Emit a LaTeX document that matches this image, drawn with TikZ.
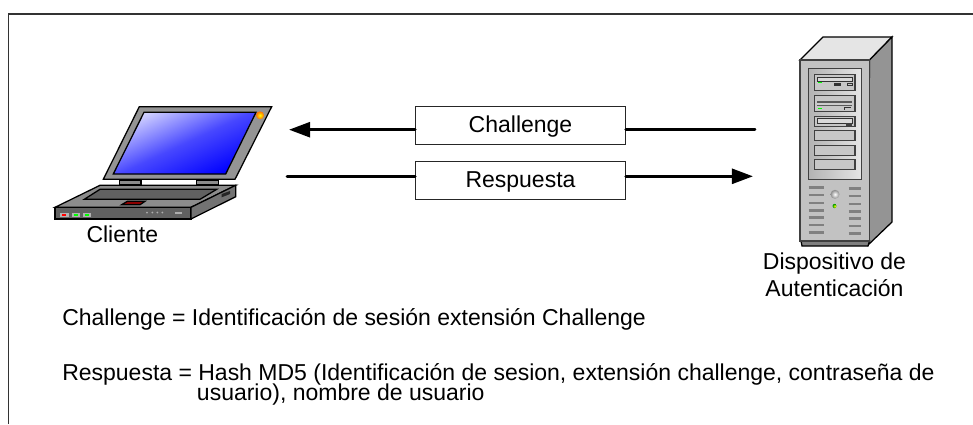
\documentclass[tikz,border=0pt]{standalone}
\usepackage{fontspec}
\setmainfont{Liberation Sans}
\usetikzlibrary{arrows.meta}
\tikzset{
  label/.style={font=\fontsize{16.35}{19}\selectfont, inner sep=0pt},
  note/.style={label, anchor=base west},
  msgbox/.style={label, draw=black!85, line width=0.7pt, fill=white, text height=11pt, text depth=1pt, minimum width=5.24cm, minimum height=0.95cm},
  msgline/.style={line width=2.1pt, line cap=round},
  msgtip/.style={-{Triangle[length=15pt,width=10.6pt]}},
  edge/.style={draw=black, line width=0.9pt},
  bay/.style={draw=black!75, line width=0.8pt, fill=black!22},
  vent/.style={line width=1.8pt, black!50}
}
\begin{document}
\begin{tikzpicture}[x=0.025cm, y=-0.025cm]
      \useasboundingbox (0, 0) rectangle (973, 424);
      \draw[line width=0.9pt, black!80] (8.5, 424) -- (8.5, 14) -- (973, 14);

      % laptop
      \fill[white] (119, 179) rectangle (219, 186);
      \draw[edge, fill=black!42] (139.3, 106.7) -- (271.7, 106.7) -- (235, 179.3) -- (103.3, 179.3) -- cycle;
      \draw[edge, top color=blue!18!white, bottom color=blue, middle color=blue!72!white, shading angle=25]
        (144, 112.3) -- (256, 112.3) -- (225.7, 174) -- (113.3, 174) -- cycle;
      \shade[inner color=yellow, outer color=orange!85!red] (260, 115.3) circle (4);
      \draw[edge, fill=black!45] (119.3, 180) rectangle (141, 185);
      \draw[edge, fill=black!45] (196.3, 180) rectangle (218.3, 185);
      \draw[edge, fill=black!45] (100, 185.3) -- (235.7, 185.3) -- (191, 207.3) -- (55, 207.3) -- cycle;
      \draw[edge, fill=black!62] (100, 189.3) -- (216.7, 189.3) -- (200, 199.3) -- (84.3, 199.3) -- cycle;
      \draw[edge, fill=red!55!black] (127.3, 201.3) -- (145, 201.3) -- (140, 204.7) -- (121.7, 204.7) -- cycle;
      \draw[edge, fill=black!62] (55, 207.3) rectangle (191, 219);
      \draw[edge, fill=black!55] (191, 207.3) -- (235.7, 185.3) -- (235.7, 196.7) -- (191, 219) -- cycle;
      \fill[black!85] (221.7, 194) -- (230, 191) -- (230, 194) -- (221.7, 197.3) -- cycle;
      \fill[black!30] (59.5, 213.3) rectangle (68.5, 216.7);
      \fill[red] (62, 214) rectangle (65.5, 216);
      \foreach \xled in {72, 82.5} {
        \fill[black!30] (\xled, 213.3) rectangle (\xled+8, 216.7);
        \fill[green] (\xled+2, 214) rectangle (\xled+6, 216);
      }
      \foreach \xdot in {147, 152.3, 157.3, 162.3}
        \fill[black!32] (\xdot, 212.5) circle (1);
      \fill[black!32] (175, 212) rectangle (182, 213.5);

      % server
      \draw[edge, fill=black!10] (800, 60) -- (823, 37) -- (892, 37) -- (869.5, 60) -- cycle;
      \draw[edge, fill=black!42] (869.5, 60) -- (892, 37) -- (892, 222) -- (868, 245) -- cycle;
      \draw[edge, fill=black!50] (801, 241) -- (802, 246) -- (868, 246) -- (869.5, 241) -- cycle;
      \draw[line width=1pt, black!75, fill=black!24] (800, 60) rectangle (869.5, 241);
      \draw[edge, black!75, left color=black!30, right color=black!10] (808.3, 68.3) rectangle (861.7, 179.3);

      \draw[bay] (814.3, 74.3) rectangle (855, 90.7);
      \fill[white!85!black] (817, 77.5) rectangle (852, 81.5);
      \draw[black!80, line width=0.5pt] (817, 77.5) rectangle (852, 81.5);
      \fill[green] (817.5, 81.8) rectangle (821.5, 83);
      \fill[black!80] (834, 83) rectangle (841, 85.5);
      \draw[black!80, line width=0.5pt] (847, 83) rectangle (852, 85.5);

      \draw[bay] (814.3, 95.3) rectangle (855, 111.7);
      \fill[black!65] (817, 101) rectangle (852, 105.5);
      \fill[white!80!black] (817, 103) rectangle (852, 104.5);
      \fill[green] (817.5, 107.5) rectangle (821.5, 109);
      \draw[black!80, line width=0.5pt] (844, 109.5) -- (844, 107.5) -- (851, 107.5);

      \draw[bay] (814.3, 116.7) rectangle (855, 126.7);
      \fill[white!85!black] (817, 118.5) rectangle (852, 123);
      \draw[black!80, line width=0.5pt] (817, 118.5) rectangle (852, 123);
      \fill[black!75] (846, 123) rectangle (852, 126);

      \foreach \ybay in {130.7, 145.3, 159.7}
        \draw[bay] (814.3, \ybay) rectangle (855, \ybay+10);

      \foreach \yrow in {187.7, 195, 203, 210.3, 217.7, 225, 232.3} {
        \draw[vent] (808.5, \yrow) -- (824, \yrow);
        \draw[vent] (848.5, \yrow+1) -- (861, \yrow+1);
      }
      \shade[inner color=white, outer color=black!45] (835, 194.3) circle (4.5);
      \shade[inner color=yellow, outer color=green!60!black] (834.7, 206) circle (2.2);

      % messages
      \node[msgbox] (chal) at (520.5, 125.7) {Challenge};
      \node[msgbox] (resp) at (520.5, 180.2) {Respuesta};

      \coordinate (laptopin) at (289, 129.7);
      \coordinate (servin) at (755, 129.7);
      \coordinate (laptopout) at (287, 176.3);
      \coordinate (servout) at (753, 176.3);
      \draw[msgline] (servin) -- (chal.east |- servin);
      \draw[msgline, msgtip] (chal.west |- laptopin) -- (laptopin);
      \draw[msgline] (laptopout) -- (resp.west |- laptopout);
      \draw[msgline, msgtip] (resp.east |- servout) -- (servout);

      % labels
      \node[label] (cliente) at (122.3, 234.5) {Cliente};
      \node[label, align=center] (dispo) at (834.5, 275) {Dispositivo de\\Autenticación};
      \node[note] (def1) at (62, 325) {Challenge = Identificación de sesión extensión Challenge};
      \node[note] (def2) at (62, 380) {Respuesta = Hash MD5 (Identificación de sesion, extensión challenge, contraseña de};
      \node[note] (def3) at (196.7, 400.7) {usuario), nombre de usuario};
    \end{tikzpicture}
\end{document}
